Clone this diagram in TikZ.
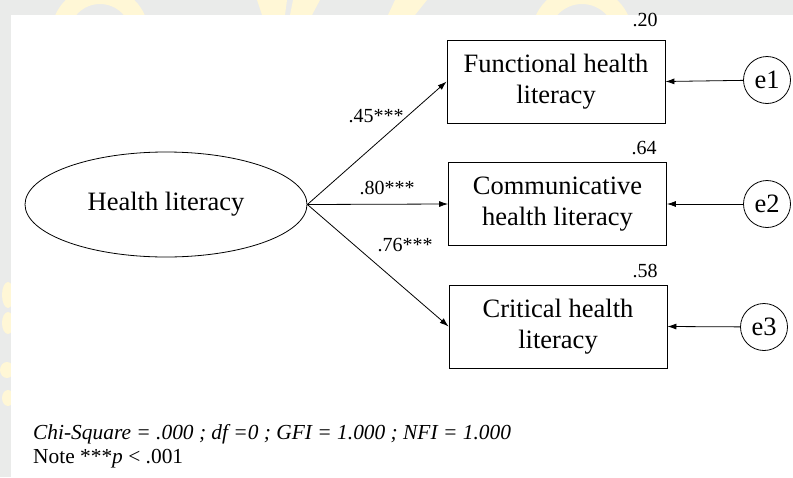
\documentclass[tikz,border=0pt]{standalone}
\usepackage{fontspec}
\setmainfont{Liberation Serif}
\usetikzlibrary{shapes.geometric,arrows.meta}
\definecolor{margingray}{HTML}{EAEBEA}
\definecolor{markyellow}{HTML}{FFF7D6}
\begin{document}
\begin{tikzpicture}[x=1pt,y=-1pt,
  big/.style={font=\fontsize{26.5}{30.5}\selectfont},
  coef/.style={font=\fontsize{20}{22}\selectfont, inner sep=0pt},
  note/.style={font=\fontsize{21.4}{24}\selectfont, inner sep=0pt, anchor=base west},
  thin/.style={line width=0.8pt},
  obs/.style={draw, thin, minimum width=218pt, minimum height=83pt, align=center, big, inner sep=0pt},
  latent/.style={draw, thin, ellipse, minimum width=282pt, minimum height=105pt, inner sep=0pt, big},
  err/.style={draw, thin, circle, minimum size=47pt, inner sep=0pt, big},
  path/.style={thin, -{Latex[length=9pt,width=6pt]}}
]
\useasboundingbox (0,0) rectangle (793,477);
% page margin with a faint watermark
\fill[margingray] (0,0) rectangle (793,477);
\draw[markyellow, line width=18pt] (100,35) circle (40);
\draw[markyellow, line width=18pt] (582,37) circle (42);
\fill[markyellow] (257,0) -- (287,0) -- (285,15) -- (262,15) -- cycle;
\fill[markyellow] (293,0) -- (320,0) -- (312,15) -- (290,15) -- cycle;
\fill[markyellow] (395,0) -- (427,0) -- (415,15) -- (388,15) -- cycle;
\fill[markyellow] (8,295) ellipse (6 and 13);
\fill[markyellow] (8,323) ellipse (6 and 11);
\fill[markyellow] (7,370) ellipse (7 and 8);
\fill[markyellow] (8,398) ellipse (6 and 8);
\fill[white] (11,15) rectangle (793,477);

% model
\node[latent] (hl) at (166,204.5) {Health literacy};
\node[obs] (fhl) at (556,81.5) {Functional health\\literacy};
\node[obs] (chl) at (557.5,204) {Communicative\\health literacy};
\node[obs] (crl) at (558,326.5) {Critical health\\literacy};

\node[err] (e1) at (767,80) {e1};
\node[err] (e2) at (767,204) {e2};
\node[err] (e3) at (764,327) {e3};

\draw[path] (hl.east) -- (fhl.west);
\draw[path] (hl.east) -- (chl.west);
\draw[path] (hl.east) -- (crl.west);
\draw[path] (e1) -- (fhl.east);
\draw[path] (e2) -- (chl.east);
\draw[path] (e3) -- (crl.east);

% loadings
\node[coef] (l1) at (376,116) {.45***};
\node[coef] (l2) at (387,188) {.80***};
\node[coef] (l3) at (405,245) {.76***};

% squared multiple correlations
\node[coef] (r1) at (645,20) {.20};
\node[coef] (r2) at (644,148) {.64};
\node[coef] (r3) at (645,271) {.58};

% fit indices
\node[note] (fit) at (33,439) {\textit{Chi-Square = .000 ; df =0 ; GFI = 1.000 ; NFI = 1.000}};
\node[note] (sig) at (33,463) {Note ***\textit{p} < .001};
\end{tikzpicture}
\end{document}
